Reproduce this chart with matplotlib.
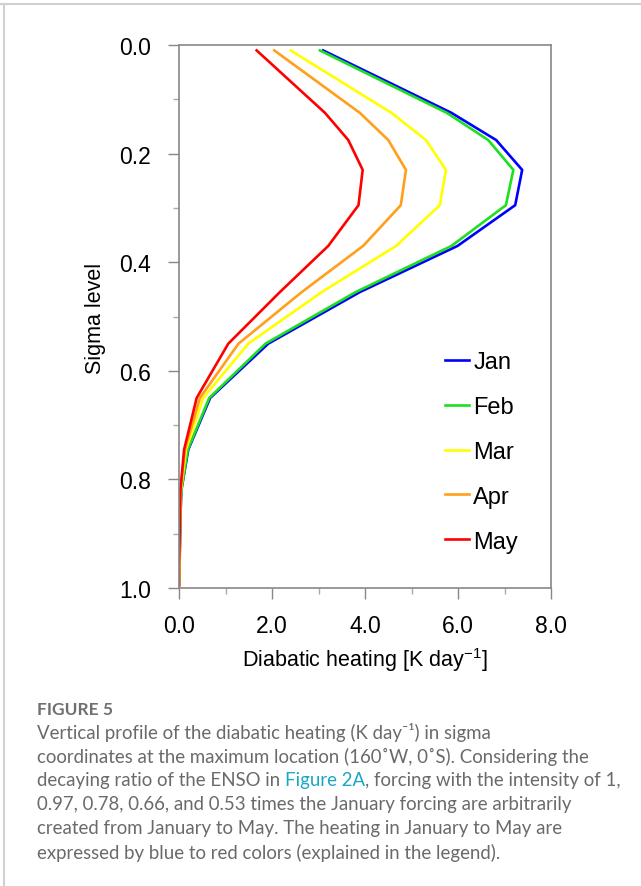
import matplotlib
matplotlib.use('Agg')
import matplotlib.pyplot as plt
from matplotlib.ticker import MultipleLocator, FormatStrFormatter
from matplotlib.lines import Line2D

# niveles sigma y perfiles de calentamiento
sigma = [0.01, 0.125, 0.175, 0.23, 0.295, 0.37, 0.455, 0.55, 0.65, 0.745, 0.82, 0.87, 0.92, 0.96, 0.995]
jan = [3.10, 5.86, 6.82, 7.38, 7.23, 5.99, 3.89, 1.92, 0.67, 0.20, 0.05, 0.03, 0.02, 0.01, 0.0]
feb = [3.03, 5.76, 6.65, 7.19, 7.03, 5.86, 3.80, 1.86, 0.65, 0.19, 0.05, 0.03, 0.02, 0.01, 0.0]
mar = [2.40, 4.57, 5.31, 5.74, 5.61, 4.67, 3.07, 1.49, 0.52, 0.15, 0.04, 0.02, 0.01, 0.01, 0.0]
apr = [2.05, 3.89, 4.50, 4.88, 4.77, 3.96, 2.64, 1.28, 0.45, 0.13, 0.03, 0.02, 0.01, 0.0, 0.0]
may = [1.67, 3.14, 3.64, 3.95, 3.86, 3.21, 2.17, 1.06, 0.38, 0.11, 0.03, 0.02, 0.01, 0.0, 0.0]

meses = ['Jan', 'Feb', 'Mar', 'Apr', 'May']
colores = ['#0000ff', '#1ee01e', '#ffff00', '#ff9f1a', '#ff0000']

fig = plt.figure(figsize=(6.41, 8.87), dpi=100)
ax = fig.add_axes([179/641, 1 - 589/887, 372/641, 543/887])

for perfil, mes, c in zip([jan, feb, mar, apr, may], meses, colores):
    ax.plot(perfil, sigma, color=c, lw=1.9, label=mes)

ax.set_xlim(0, 8)
ax.set_ylim(1, 0)
ax.xaxis.set_major_locator(MultipleLocator(2))
ax.xaxis.set_minor_locator(MultipleLocator(1))
ax.yaxis.set_major_locator(MultipleLocator(0.2))
ax.yaxis.set_minor_locator(MultipleLocator(0.1))
ax.xaxis.set_major_formatter(FormatStrFormatter('%.1f'))
ax.yaxis.set_major_formatter(FormatStrFormatter('%.1f'))
ax.tick_params(which='major', direction='out', length=8, width=1, color='#888888',
               labelsize=16.5, pad=12)
ax.tick_params(axis='x', which='major', pad=11)
ax.tick_params(which='minor', direction='out', length=4, width=1, color='#aaaaaa')
for lab in ax.get_xticklabels() + ax.get_yticklabels():
    lab.set_family('Liberation Sans')
for s in ax.spines.values():
    s.set_color('#888888')
    s.set_linewidth(1.2)

fig.text(365/641, 1 - 660/887, r'Diabatic heating [K day$^{\mathregular{-1}}$]', ha='center',
         va='center', fontsize=15.5, family='Liberation Sans')
fig.text(95/641, 1 - 318/887, 'Sigma level', ha='center', va='center', rotation=90,
         fontsize=15.5, family='Liberation Sans')

leg = ax.legend(loc='upper left', bbox_to_anchor=(445/641, 1 - 352/887),
                bbox_transform=fig.transFigure, frameon=False, borderpad=0,
                borderaxespad=0, handlelength=1.0, handletextpad=0.2, labelspacing=0.97,
                prop={'family': 'Liberation Sans', 'size': 17})

# marco gris de la pagina
fig.add_artist(Line2D([0, 1], [1 - 4.5/887] * 2, transform=fig.transFigure, color='#d0d0d0', lw=1.5))
fig.add_artist(Line2D([4/641] * 2, [0, 1 - 4.5/887], transform=fig.transFigure, color='#d0d0d0', lw=1.5))

# pie de figura
gris = '#6a6a6a'
fuente = ['Lato', 'DejaVu Sans']
tam = 13.4
x0 = 37/641
fig.text(x0, 1 - 710/887, 'FIGURE 5', fontsize=12.5, weight='bold', color='#707070',
         family=fuente, va='center')
lineas = [
    'Vertical profile of the diabatic heating (K day\u207b\u00b9) in sigma',
    'coordinates at the maximum location (160\u02daW, 0\u02daS). Considering the',
    None,
    '0.97, 0.78, 0.66, and 0.53 times the January forcing are arbitrarily',
    'created from January to May. The heating in January to May are',
    'expressed by blue to red colors (explained in the legend).',
]
ys = [733, 757, 781, 805, 829, 853]
for texto, y in zip(lineas, ys):
    if texto is not None:
        fig.text(x0, 1 - y/887, texto, fontsize=tam, color=gris, family=fuente, va='center')

# linea con enlace en color
partes = [('decaying ratio of the ENSO in ', gris), ('Figure 2A', '#1aa7c4'),
          (', forcing with the intensity of 1,', gris)]
r = fig.canvas.get_renderer()
x = x0
for texto, c in partes:
    t = fig.text(x, 1 - 781/887, texto, fontsize=tam, color=c, family=fuente, va='center')
    ext = t.get_window_extent(renderer=r)
    x += ext.width / fig.bbox.width

fig.savefig('out.png', dpi=100)
